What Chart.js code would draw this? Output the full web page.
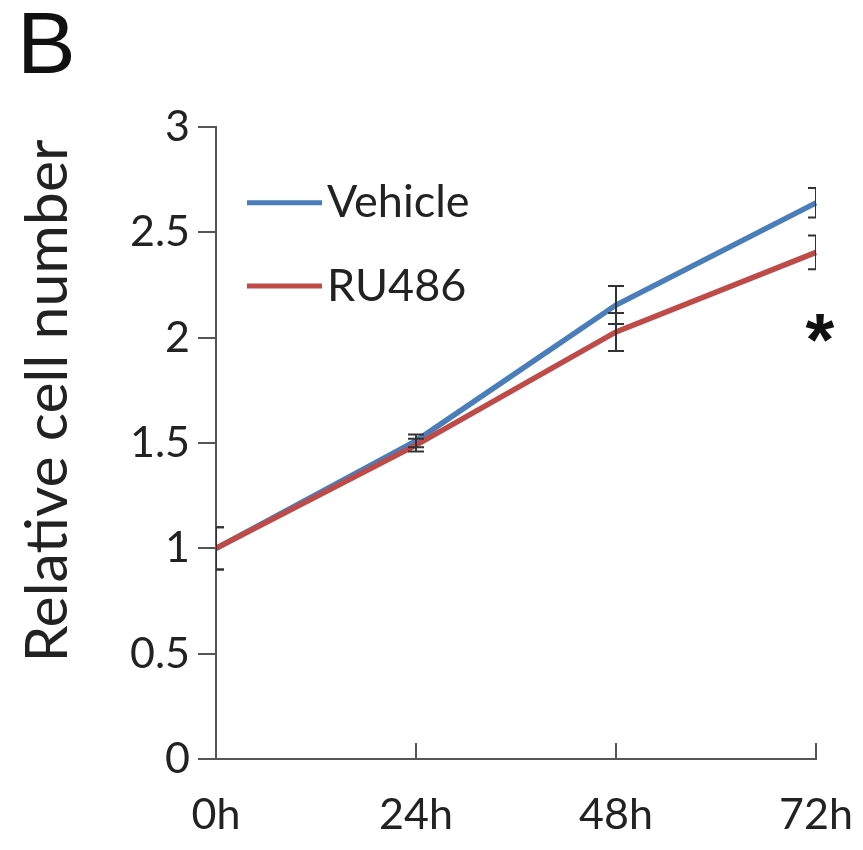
<!DOCTYPE html>
<html>
<head>
<meta charset="utf-8">
<script src="https://cdn.jsdelivr.net/npm/chart.js@4.4.0/dist/chart.umd.min.js"></script>
<style>
html,body{margin:0;padding:0;background:#fff;}
#wrap{width:863px;height:850px;position:relative;}
</style>
</head>
<body>
<div id="wrap"><canvas id="c" width="863" height="850"></canvas></div>
<script>
const timeLabels = ['0h', '24h', '48h', '72h'];
const vehicleValues = [1.0, 1.51, 2.155, 2.64];
const vehicleErrors = [0.10, 0.03, 0.09, 0.07];
const ru486Values = [1.0, 1.49, 2.027, 2.405];
const ru486Errors = [0.10, 0.03, 0.09, 0.08];
const seriesNames = ['Vehicle', 'RU486'];
const yTicks = [0, 0.5, 1, 1.5, 2, 2.5, 3];
const yAxisTitle = 'Relative cell number';
const panelLetter = 'B';
const significanceMark = '*';

const FONT = 'Lato, "Open Sans", sans-serif';
const AXIS_COLOR = '#555555';
const TEXT_COLOR = '#222222';

const errorBarPlugin = {
  id: 'errorBars',
  afterDatasetsDraw(chart) {
    const ctx = chart.ctx;
    const xs = chart.scales.x, ys = chart.scales.y;
    const area = chart.chartArea;
    ctx.save();
    ctx.beginPath();
    ctx.rect(area.left, area.top - 20, area.right - area.left, area.bottom - area.top + 40);
    ctx.clip();
    ctx.strokeStyle = '#333333';
    ctx.lineWidth = 2;
    const sets = [[vehicleValues, vehicleErrors], [ru486Values, ru486Errors]];
    sets.forEach(([vals, errs]) => {
      vals.forEach((v, i) => {
        const x = xs.getPixelForValue(i);
        const yTop = ys.getPixelForValue(v + errs[i]);
        const yBot = ys.getPixelForValue(v - errs[i]);
        ctx.beginPath();
        ctx.moveTo(x, yTop); ctx.lineTo(x, yBot);
        ctx.moveTo(x - 8, yTop); ctx.lineTo(x + 8, yTop);
        ctx.moveTo(x - 8, yBot); ctx.lineTo(x + 8, yBot);
        ctx.stroke();
      });
    });
    ctx.restore();
  }
};

const decorPlugin = {
  id: 'decor',
  afterDraw(chart) {
    const ctx = chart.ctx;
    const xs = chart.scales.x, ys = chart.scales.y;
    const area = chart.chartArea;
    ctx.save();
    // x-axis ticks pointing up into the plot
    ctx.strokeStyle = AXIS_COLOR;
    ctx.lineWidth = 2;
    timeLabels.forEach((l, i) => {
      if (i === 0) return;
      const x = xs.getPixelForValue(i);
      ctx.beginPath();
      ctx.moveTo(x, area.bottom);
      ctx.lineTo(x, area.bottom - 16);
      ctx.stroke();
    });
    // legend inside plot
    const legendY = [ys.getPixelForValue(2.64), ys.getPixelForValue(2.245)];
    ctx.font = '45px ' + FONT;
    ctx.fillStyle = TEXT_COLOR;
    ctx.textBaseline = 'middle';
    ctx.textAlign = 'left';
    chart.data.datasets.forEach((d, i) => {
      ctx.strokeStyle = d.borderColor;
      ctx.lineWidth = 5;
      ctx.beginPath();
      ctx.moveTo(247, legendY[i]);
      ctx.lineTo(322, legendY[i]);
      ctx.stroke();
      ctx.fillText(d.label, 327, legendY[i]);
    });
    // significance asterisk
    ctx.font = 'bold 74px "Liberation Sans", Arial, sans-serif';
    ctx.fillStyle = '#111';
    ctx.textAlign = 'center';
    ctx.textBaseline = 'alphabetic';
    ctx.fillText(significanceMark, xs.getPixelForValue(3) + 4, ys.getPixelForValue(1.88) + 2);
    // y axis title
    ctx.save();
    ctx.translate(48, 401);
    ctx.rotate(-Math.PI / 2);
    ctx.font = '59px ' + FONT;
    ctx.fillStyle = TEXT_COLOR;
    ctx.textAlign = 'center';
    ctx.textBaseline = 'middle';
    ctx.fillText(yAxisTitle, 0, 0);
    ctx.restore();
    // panel letter
    ctx.font = '88px "Liberation Sans", Arial, sans-serif';
    ctx.fillStyle = '#111';
    ctx.textAlign = 'left';
    ctx.textBaseline = 'alphabetic';
    ctx.fillText(panelLetter, 17, 73);
    ctx.restore();
  }
};

new Chart(document.getElementById('c'), {
  type: 'line',
  data: {
    labels: timeLabels,
    datasets: [
      { label: seriesNames[0], data: vehicleValues, borderColor: '#4A7EBB', borderWidth: 5.5,
        pointRadius: 0, tension: 0, fill: false, order: 1 },
      { label: seriesNames[1], data: ru486Values, borderColor: '#BE4B48', borderWidth: 5.5,
        pointRadius: 0, tension: 0, fill: false, order: 0 }
    ]
  },
  options: {
    responsive: false,
    animation: false,
    layout: { padding: { left: 0, right: 47, top: 127, bottom: 0 } },
    plugins: { legend: { display: false }, tooltip: { enabled: false } },
    scales: {
      x: {
        type: 'category',
        offset: false,
        grid: { display: true, drawOnChartArea: false, drawTicks: false },
        border: { display: true, color: AXIS_COLOR, width: 2 },
        ticks: { color: TEXT_COLOR, font: { family: FONT, size: 43 }, padding: 30, maxRotation: 0, autoSkip: false },
        afterFit(scale) { scale.height = 91; scale.paddingLeft = 0; scale.paddingRight = 0; }
      },
      y: {
        min: 0, max: 3,
        afterBuildTicks(scale) { scale.ticks = yTicks.map(v => ({ value: v })); },
        grid: { drawOnChartArea: false, drawTicks: true, tickLength: 18, color: AXIS_COLOR, lineWidth: 2 },
        border: { display: true, color: AXIS_COLOR, width: 2 },
        ticks: { color: TEXT_COLOR, font: { family: FONT, size: 43 }, padding: 8,
                 callback: v => String(v) },
        title: { display: false },
        afterFit(scale) { scale.width = 216; scale.paddingTop = 0; scale.paddingBottom = 0; }
      }
    }
  },
  plugins: [errorBarPlugin, decorPlugin]
});
</script>
</body>
</html>
